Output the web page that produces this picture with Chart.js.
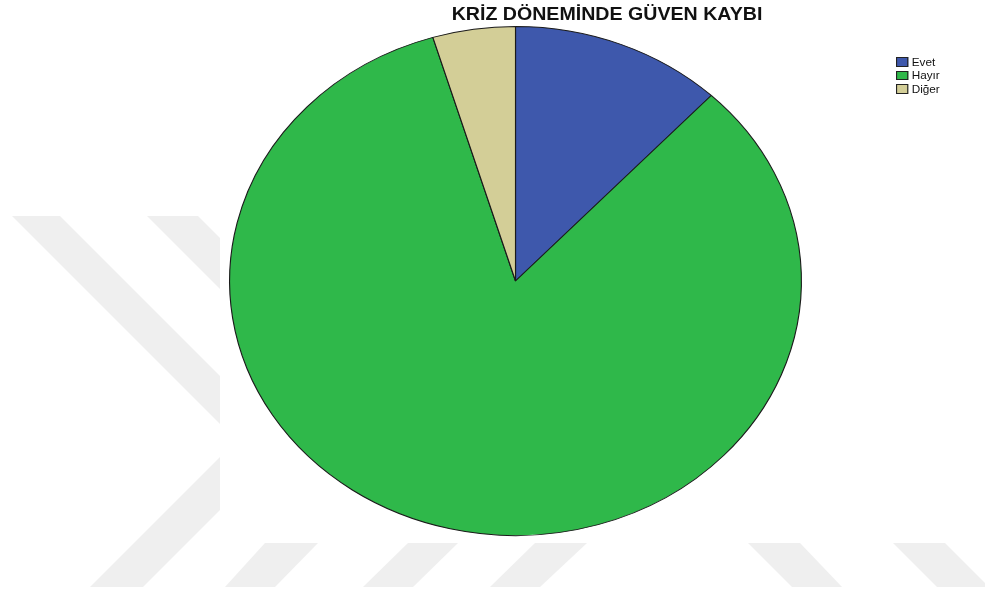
<!DOCTYPE html>
<html lang="tr">
<head>
<meta charset="utf-8">
<title>Kriz Döneminde Güven Kaybı</title>
<script src="https://cdn.jsdelivr.net/npm/chart.js@4.4.1/dist/chart.umd.min.js"></script>
<style>
  body { margin: 0; background: #fff; }
  #wrap { position: relative; width: 985px; height: 592px; overflow: hidden; }
  #pie-chart { position: absolute; left: 0; top: 0; }
  #chart-title {
    position: absolute; left: 407px; top: 4px; width: 400px;
    text-align: center; white-space: nowrap;
    font: bold 17.5px "Liberation Sans", Arial, sans-serif; line-height: 20px;
    color: #111; transform: scaleX(1.12);
  }
  #chart-legend {
    position: absolute; left: 896px; top: 55px;
    list-style: none; margin: 0; padding: 0;
    font: 10.5px "Liberation Sans", Arial, sans-serif; color: #111;
    transform-origin: 0 0; transform: scaleX(1.12);
  }
  #chart-legend li { height: 13.5px; display: flex; align-items: center; white-space: nowrap; }
  #chart-legend span {
    display: inline-block; width: 10.7px; height: 9.5px; box-sizing: border-box;
    border: 1px solid #222; margin-right: 3.3px;
  }
</style>
</head>
<body>
<div id="wrap">
  <canvas id="pie-chart" width="985" height="592"></canvas>
  <div id="chart-title"></div>
  <ul id="chart-legend"></ul>
</div>
<script>
// dữ liệu biểu đồ
const chartTitle = "KRİZ DÖNEMİNDE GÜVEN KAYBI";
const answerLabels = ["Evet", "Hayır", "Diğer"];
const answerCounts = [18, 125, 7];
const answerColors = ["#3e58ac", "#2fb84a", "#d3ce97"];

// SPSS kéo giãn hình tròn theo chiều ngang thành elip
const STRETCH_X = 1.1235;

document.getElementById("chart-title").textContent = chartTitle;

// nền mờ phía sau (các dải xám chéo)
const backdropPlugin = {
  id: "backdrop",
  beforeDraw(chart) {
    const ctx = chart.ctx;
    ctx.save();
    ctx.fillStyle = "#fff";
    ctx.fillRect(0, 0, chart.width, chart.height);
    ctx.fillStyle = "#efefef";

    const band = (clip, polys) => {
      ctx.save();
      ctx.beginPath();
      ctx.rect(clip[0], clip[1], clip[2], clip[3]);
      ctx.clip();
      polys.forEach(p => {
        ctx.beginPath();
        ctx.moveTo(p[0], p[1]);
        for (let i = 2; i < p.length; i += 2) ctx.lineTo(p[i], p[i + 1]);
        ctx.closePath();
        ctx.fill();
      });
      ctx.restore();
    };

    band([0, 216, 220, 372], [
      [12, 216, 60, 216, 460, 616, 412, 616],
      [147, 216, 198, 216, 598, 616, 547, 616],
      [90, 587, 143, 587, 543, 187, 490, 187]
    ]);
    band([220, 543, 765, 44], [
      [265, 543, 318, 543, 275, 587, 225, 587],
      [408, 543, 458, 543, 413, 587, 363, 587],
      [535, 543, 587, 543, 540, 587, 490, 587],
      [748, 543, 800, 543, 842, 587, 792, 587],
      [893, 543, 945, 543, 989, 587, 937, 587]
    ]);
    ctx.restore();
  }
};

// kéo giãn phần hình tròn quanh tâm
const ellipsePlugin = {
  id: "ellipse",
  beforeDatasetsDraw(chart) {
    const { ctx, chartArea } = chart;
    const cx = (chartArea.left + chartArea.right) / 2;
    ctx.save();
    ctx.translate(cx, 0);
    ctx.scale(STRETCH_X, 1);
    ctx.translate(-cx, 0);
  },
  afterDatasetsDraw(chart) {
    chart.ctx.restore();
  }
};

new Chart(document.getElementById("pie-chart").getContext("2d"), {
  type: "pie",
  data: {
    labels: answerLabels,
    datasets: [{
      data: answerCounts,
      backgroundColor: answerColors,
      borderColor: "#1a1a1a",
      borderWidth: 1,
      hoverOffset: 0
    }]
  },
  options: {
    responsive: false,
    animation: false,
    devicePixelRatio: 1,
    layout: { padding: { left: 260, right: 214, top: 26, bottom: 56 } },
    plugins: {
      legend: { display: false },
      tooltip: { enabled: false },
      title: { display: false }
    }
  },
  plugins: [backdropPlugin, ellipsePlugin]
});

// chú thích
const chartLegend = document.getElementById("chart-legend");
answerLabels.forEach((label, index) => {
  const legendItem = document.createElement("li");
  legendItem.innerHTML = `<span style="background-color:${answerColors[index]};"></span>${label}`;
  chartLegend.appendChild(legendItem);
});
</script>
</body>
</html>
